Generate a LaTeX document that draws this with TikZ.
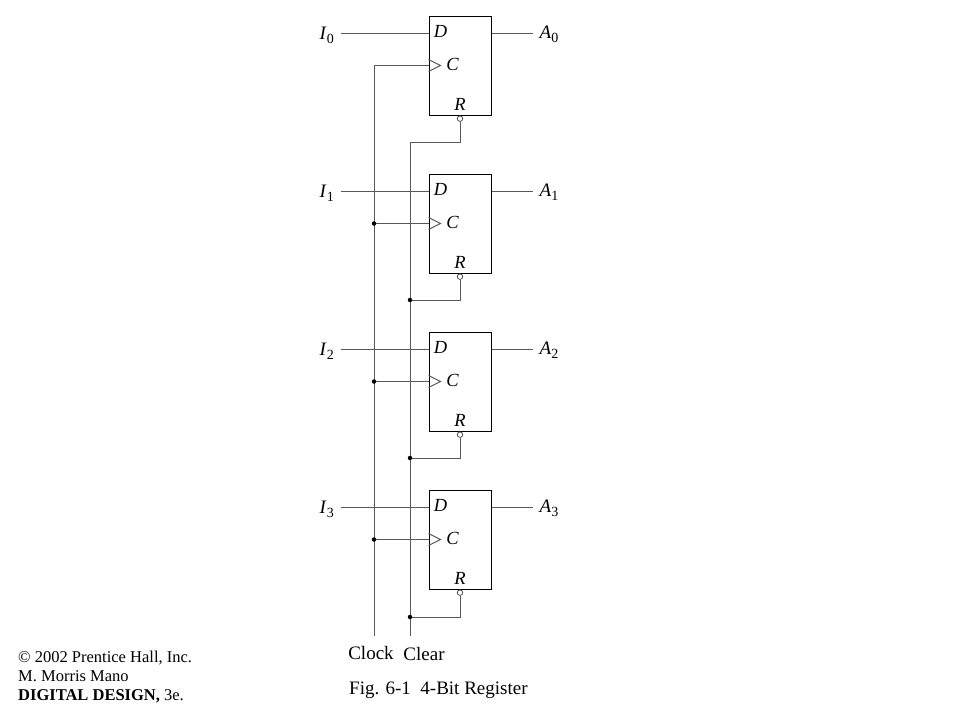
\documentclass[tikz,border=0pt]{standalone}
\usepackage{fontspec}
\setmainfont{Liberation Serif}
\usetikzlibrary{positioning}
\usetikzlibrary{calc}
\newcommand{\subdigit}[1]{\raisebox{-3.5pt}{\fontsize{14}{14}\selectfont\upshape #1}}
\tikzstyle{reg} = [rectangle, draw=black, line width=1pt, minimum width=62pt, minimum height=99pt, inner sep=0pt]
\tikzstyle{wire} = [draw, line width=1pt, color=black!65]
\tikzstyle{pinname} = [font=\fontsize{18.5}{18.5}\selectfont\itshape, inner sep=0pt]
\tikzstyle{sig} = [font=\fontsize{19}{19}\selectfont, inner sep=0pt]
\tikzstyle{bubble} = [circle, draw=black!70, line width=0.8pt, fill=white, inner sep=0pt, minimum size=5.5pt]
\tikzstyle{junction} = [circle, fill=black, inner sep=0pt, minimum size=4.5pt]
\tikzstyle{caption} = [font=\fontsize{16.5}{16.5}\selectfont, inner sep=0pt, anchor=base west]

\begin{document}
\begin{tikzpicture}[x=1pt, y=-1pt]
	\useasboundingbox (0,0) rectangle (960,720);
	%% Registers
	\node [reg] (F0) at (460,65.5) {};
	\node [reg, below=58pt of F0] (F1) {};
	\node [reg, below=58pt of F1] (F2) {};
	\node [reg, below=58pt of F2] (F3) {};
	%% Pins
	\foreach \n in {0,1,2,3} {
		\coordinate (d\n) at ($(F\n.north west)+(0,17.5)$);
		\coordinate (q\n) at ($(F\n.north east)+(0,17.5)$);
		\coordinate (c\n) at ($(F\n.north west)+(0,50)$);
		\node [bubble, below=0pt of F\n] (r\n) {};
		\node [pinname] at ($(F\n.north west)+(12,16)$) {D};
		\node [pinname] at ($(F\n.north west)+(24,48.5)$) {C};
		\node [pinname] at ($(F\n.south)+(0,-11)$) {R};
		\draw [wire] ($(c\n)+(0,-6)$) -- ($(c\n)+(12,0)$) -- ($(c\n)+(0,6)$);
		\node [sig, anchor=base west] (I\n) at ($(d\n)+(-109,6.5)$) {\textit{I}\subdigit{\n}};
		\node [sig, anchor=base west] (A\n) at ($(q\n)+(48,5.5)$) {\textit{A}\subdigit{\n}};
		\path [wire] ($(d\n)+(-88,0)$) -- (d\n);
		\path [wire] (q\n) -- ($(q\n)+(41,0)$);
	}
	%% Buses
	\coordinate (ClockEnd) at (374,636);
	\coordinate (ClearEnd) at (410,636);
	\node [sig, anchor=base] (Clock) at (371,659) {Clock};
	\node [sig, anchor=base] (Clear) at (424,660) {Clear};
	\path [wire] (c0) -| (ClockEnd);
	\path [wire] (r0.south) |- (410,142) -- (ClearEnd);
	%% Tapping points
	\path [wire] (c1) -- (c1 -| ClockEnd) node [junction] {};
	\path [wire] (c2) -- (c2 -| ClockEnd) node [junction] {};
	\path [wire] (c3) -- (c3 -| ClockEnd) node [junction] {};
	\path [wire] (r1.south) |- (410,300) node [junction] {};
	\path [wire] (r2.south) |- (410,458) node [junction] {};
	\path [wire] (r3.south) |- (410,617) node [junction] {};
	%% Captions
	\node [caption, font=\fontsize{19}{19}\selectfont] (Fig) at (349,694) {Fig. 6-1\ \ 4-Bit Register};
	\node [caption] (Pub) at (18,662) {\textcopyright\ 2002 Prentice Hall, Inc.};
	\node [caption] (Auth) at (18,681) {M. Morris Mano};
	\node [caption] (Book) at (18,700) {\textbf{DIGITAL DESIGN,} 3e.};
\end{tikzpicture}
\end{document}
